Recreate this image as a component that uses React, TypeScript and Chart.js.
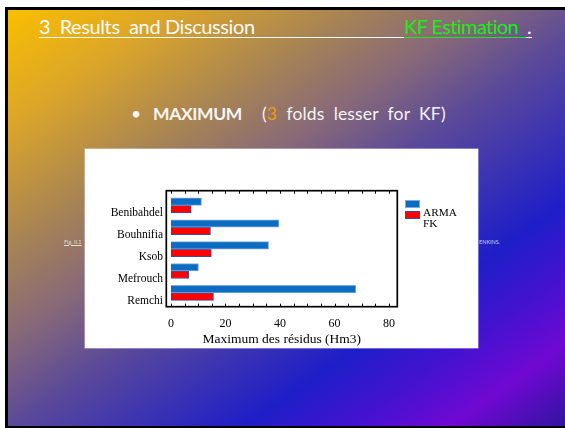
import React, { useEffect, useRef } from "react";
import { Chart, registerables } from "chart.js";

Chart.register(...registerables);

const categories = ["Benibahdel", "Bouhnifia", "Ksob", "Mefrouch", "Remchi"];
const armaValues = [11.2, 39.6, 35.8, 10.1, 67.8];
const fkValues = [7.4, 14.5, 14.8, 6.5, 15.6];
const seriesNames = ["ARMA", "FK"];
const seriesFill = ["#0a6cc2", "#ff0000"];
const seriesBorder = ["#86a8d8", "#3b4aa6"];
const xTickValues = [0, 20, 40, 60, 80];
const xMinorStep = 5;
const xAxisTitle = "Maximum des résidus (Hm3)";

const SERIF = "'Liberation Serif', 'Times New Roman', serif";

const framePlugin = {
  id: "frameAndLegend",
  afterDraw(chart: any) {
    const { ctx, chartArea } = chart;
    const xs = chart.scales.x;
    ctx.save();
    ctx.strokeStyle = "#000";
    ctx.lineWidth = 1;
    for (let v = 0; v <= xTickValues[xTickValues.length - 1]; v += xMinorStep) {
      const px = Math.round(xs.getPixelForValue(v)) + 0.5;
      ctx.beginPath();
      ctx.moveTo(px, chartArea.bottom);
      ctx.lineTo(px, chartArea.bottom - 3);
      ctx.moveTo(px, chartArea.top);
      ctx.lineTo(px, chartArea.top + 3);
      ctx.stroke();
    }
    ctx.lineWidth = 1.7;
    ctx.strokeRect(
      chartArea.left,
      chartArea.top,
      chartArea.right - chartArea.left,
      chartArea.bottom - chartArea.top
    );
    const x0 = chartArea.right + 7.7;
    ctx.font = `11.3px ${SERIF}`;
    ctx.textBaseline = "alphabetic";
    ctx.textAlign = "left";
    chart.data.datasets.forEach((ds: any, i: number) => {
      const by = chartArea.top + 9.3 + i * 11;
      ctx.fillStyle = ds.backgroundColor;
      ctx.fillRect(x0, by, 15, 8);
      ctx.lineWidth = 1;
      ctx.strokeStyle = ds.borderColor;
      ctx.strokeRect(x0 + 0.5, by + 0.5, 14, 7);
      ctx.fillStyle = "#000";
      ctx.fillText(ds.label, chartArea.right + 25.7, chartArea.top + 25 + i * 11);
    });
    ctx.restore();
  },
};

function BarChart() {
  const ref = useRef<HTMLCanvasElement | null>(null);
  useEffect(() => {
    if (!ref.current) return;
    const valueSets = [armaValues, fkValues];
    const chart = new Chart(ref.current, {
      type: "bar",
      data: {
        datasets: seriesNames.map((name, s) => ({
          label: name,
          data: valueSets[s].map((v, i) => ({ x: v, y: i })),
          backgroundColor: seriesFill[s],
          borderColor: seriesBorder[s],
          borderWidth: 1,
          barThickness: 7.5,
        })),
      },
      options: {
        indexAxis: "y",
        responsive: false,
        animation: false,
        events: [],
        layout: { padding: { top: 41.7, right: 80.7, bottom: 0, left: 0 } },
        plugins: { legend: { display: false }, tooltip: { enabled: false } },
        scales: {
          x: {
            type: "linear",
            min: -1.7,
            max: 83,
            offset: false,
            grid: { display: false, drawTicks: false },
            border: { display: false },
            afterBuildTicks: (scale: any) => {
              scale.ticks = xTickValues.map((v) => ({ value: v }));
            },
            afterFit: (scale: any) => {
              scale.height = 41.3;
            },
            ticks: {
              padding: 10,
              color: "#000",
              font: { family: SERIF, size: 12 },
              maxRotation: 0,
              autoSkip: false,
            },
            title: {
              display: true,
              text: xAxisTitle,
              color: "#000",
              font: { family: SERIF, size: 13.5 },
              padding: { top: 0, bottom: 0.6 },
            },
          },
          y: {
            type: "linear",
            reverse: true,
            offset: false,
            min: -0.67,
            max: 4.63,
            grid: { display: false, drawTicks: false, offset: false },
            border: { display: false },
            afterBuildTicks: (scale: any) => {
              scale.ticks = categories.map((_, i) => ({ value: i }));
            },
            afterFit: (scale: any) => {
              scale.width = 81.3;
            },
            ticks: {
              padding: 3.3,
              labelOffset: 7.8,
              color: "#000",
              autoSkip: false,
              font: { family: SERIF, size: 11.5 },
              callback: (v: any) => categories[Number(v)] ?? "",
            },
          },
        },
      },
      plugins: [framePlugin],
    } as any);
    return () => chart.destroy();
  }, []);
  return (
    <canvas
      ref={ref}
      width={393}
      height={199}
      style={{ position: "absolute", left: 85, top: 149, width: 393, height: 199, background: "#fff", boxShadow: "0 0 0 0.5px rgba(230,225,250,0.8)", zIndex: 2 }}
    />
  );
}

const LATO = "Lato, 'Open Sans', sans-serif";

export default function App() {
  const abs = (s: React.CSSProperties): React.CSSProperties => ({ position: "absolute", whiteSpace: "pre", ...s });
  return (
    <div style={{ position: "absolute", left: 0, top: 0, width: 565, height: 428, overflow: "hidden", background: "#fff" }}>
      <div
        style={{
          position: "absolute",
          left: 5,
          top: 7,
          width: 600,
          height: 421,
          boxSizing: "border-box",
          borderLeft: "3px solid #000",
          borderTop: "3px solid #000",
          borderBottom: "2px solid #000",
          background:
            "linear-gradient(to bottom right, #f9bf00 0%, #dba52a 14%, #a98552 28%, #86687a 40%, #5c4a98 50%, #3c34b2 60%, #1e1ec8 70%, #4612d0 79%, #7008d2 87%, #1c1890 100%)",
        }}
      />
      <div style={abs({ left: 39, top: 16.3, fontFamily: LATO, fontSize: 20, lineHeight: "20px", letterSpacing: -0.4, color: "#fafafa" })}>
        {"3  Results  and Discussion"}
      </div>
      <div style={abs({ left: 404, top: 16.3, fontFamily: LATO, fontSize: 20, lineHeight: "20px", letterSpacing: -0.6, color: "#14f014" })}>
        {"KF Estimation"}
      </div>
      <div style={abs({ left: 522, top: 16.3, fontFamily: LATO, fontSize: 20, lineHeight: "20px", color: "#fafafa" })}>
        {" ."}
      </div>
      <div style={abs({ left: 39, top: 36.5, width: 365, height: 1.5, background: "#fafafa" })} />
      <div style={abs({ left: 404, top: 36.5, width: 122, height: 1.5, background: "#14f014" })} />
      <div style={abs({ left: 526, top: 36.5, width: 5.5, height: 1.5, background: "#fafafa" })} />
      <div style={abs({ left: 131, top: 104.5, fontFamily: LATO, fontSize: 17.5, lineHeight: "17.5px", color: "#f4f4f4" })}>{"•"}</div>
      <div style={abs({ left: 153, top: 104.5, fontFamily: LATO, fontSize: 17.5, lineHeight: "17.5px", letterSpacing: -0.4, color: "#f4f4f4", fontWeight: 700 })}>
        {"MAXIMUM"}
      </div>
      <div style={abs({ left: 262, top: 104.5, fontFamily: LATO, fontSize: 17.5, lineHeight: "17.5px", letterSpacing: 0.15, color: "#f4f4f4" })}>
        {"("}
        <span style={{ color: "#f39a0c" }}>3</span>
        {"  folds  lesser  for  KF)"}
      </div>
      <div style={abs({ left: 64, top: 238.5, fontFamily: LATO, fontSize: 5.5, lineHeight: "6px", color: "rgba(255,255,255,0.75)", textDecoration: "underline" })}>
        {"Fig. II.1"}
      </div>
      <div style={abs({ left: 479, top: 238.5, fontFamily: LATO, fontSize: 5.5, lineHeight: "6px", color: "rgba(255,255,255,0.75)" })}>
        {"ENKINS."}
      </div>
      <BarChart />
    </div>
  );
}
